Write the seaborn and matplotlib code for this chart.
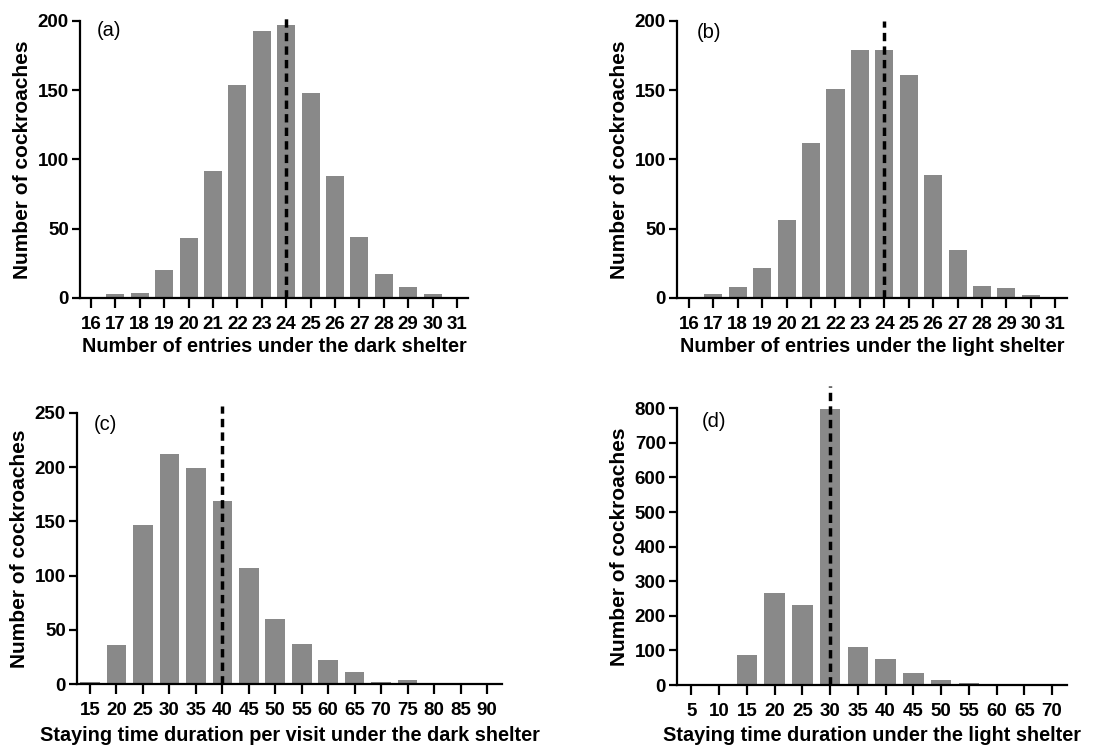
import matplotlib
matplotlib.use("Agg")
import matplotlib.pyplot as plt
import seaborn as sns
import pandas as pd

# ---- data ----
entries = list(range(16, 32))
dark_entries_counts = [0, 2.6, 3.6, 20, 43, 92, 154, 193, 197, 148, 88, 44, 17, 8, 2.6, 0]
light_entries_counts = [0, 2.6, 8, 22, 56, 112, 151, 179, 179, 161, 89, 35, 9, 7, 2, 0]

dark_duration = list(range(15, 95, 5))
dark_duration_counts = [2.5, 36, 147, 212, 199, 169, 107, 60, 37, 22, 11, 2.5, 4, 0, 1, 1]

light_duration = list(range(5, 75, 5))
light_duration_counts = [0, 2, 88, 267, 232, 797, 110, 74, 34, 14, 7, 1, 1, 2]

means = {"a": 24, "b": 24, "c": 40, "d": 30}
panel_labels = ["(a)", "(b)", "(c)", "(d)"]
xlabels = ["Number of entries under the dark shelter",
           "Number of entries under the light shelter",
           "Staying time duration per visit under the dark shelter",
           "Staying time duration under the light shelter"]
ylabel = "Number of cockroaches"

sns.set_theme(style="ticks")
plt.rcParams["font.family"] = ["Liberation Sans", "DejaVu Sans"]
plt.rcParams["text.color"] = "black"
plt.rcParams["axes.labelcolor"] = "black"
plt.rcParams["xtick.color"] = "black"
plt.rcParams["ytick.color"] = "black"

W, H = 1114, 747
fig = plt.figure(figsize=(W / 100, H / 100), dpi=100)

def frac(l, r, t, b):
    return [l / W, (H - b) / H, (r - l) / W, (b - t) / H]

specs = [
    dict(x=entries, y=dark_entries_counts, rect=frac(80, 468, 21, 298), xlim=(15.55, 31.45),
         ylim=(0, 200), yticks=range(0, 201, 50), mean=means["a"], ltop=205, lab=(0.044, 0.967), xpad=3),
    dict(x=entries, y=light_entries_counts, rect=frac(677, 1067, 21, 298), xlim=(15.51, 31.48),
         ylim=(0, 200), yticks=range(0, 201, 50), mean=means["b"], ltop=200, lab=(0.05, 0.957), xpad=3),
    dict(x=dark_duration, y=dark_duration_counts, rect=frac(77, 502, 412.7, 684.3), xlim=(12.54, 92.84),
         ylim=(0, 250), yticks=range(0, 251, 50), mean=means["c"], ltop=256, lab=(0.04, 0.955), xpad=4.5),
    dict(x=light_duration, y=light_duration_counts, rect=frac(677, 1067, 408.3, 685), xlim=(2.42, 72.7),
         ylim=(0, 800), yticks=range(0, 801, 100), mean=means["d"], ltop=865, lab=(0.063, 0.952), xpad=4.5),
]

for i, s in enumerate(specs):
    ax = fig.add_axes(s["rect"])
    df = pd.DataFrame({"x": s["x"], "y": s["y"]})
    sns.barplot(data=df, x="x", y="y", native_scale=True, width=0.74, color="#898989",
                saturation=1, errorbar=None, linewidth=0, ax=ax)
    ax.set_xlim(*s["xlim"])
    ax.set_ylim(*s["ylim"])
    ax.set_xticks(s["x"])
    ax.set_xticklabels([str(v) for v in s["x"]])
    ax.set_yticks(list(s["yticks"]))
    ax.plot([s["mean"], s["mean"]], [0, s["ltop"]], color="black", lw=2.5,
            linestyle=(0, (2.4, 1.5)), clip_on=False, zorder=5)
    sns.despine(ax=ax)
    for sp in ["left", "bottom"]:
        ax.spines[sp].set_linewidth(1.6)
        ax.spines[sp].set_color("black")
    ax.tick_params(axis="x", width=1.6, length=7, labelsize=13.5, pad=6)
    ax.tick_params(axis="y", width=1.6, length=6, labelsize=13.5, pad=2)
    for lbl in ax.get_xticklabels() + ax.get_yticklabels():
        lbl.set_fontweight("bold")
    ax.set_xlabel(xlabels[i], fontsize=14.3, fontweight="bold", labelpad=s["xpad"])
    ax.set_ylabel(ylabel, fontsize=15, fontweight="bold", labelpad=4)
    ax.text(s["lab"][0], s["lab"][1], panel_labels[i], transform=ax.transAxes,
            fontsize=14.5, ha="left", va="center")

fig.savefig("out.png", dpi=100)
